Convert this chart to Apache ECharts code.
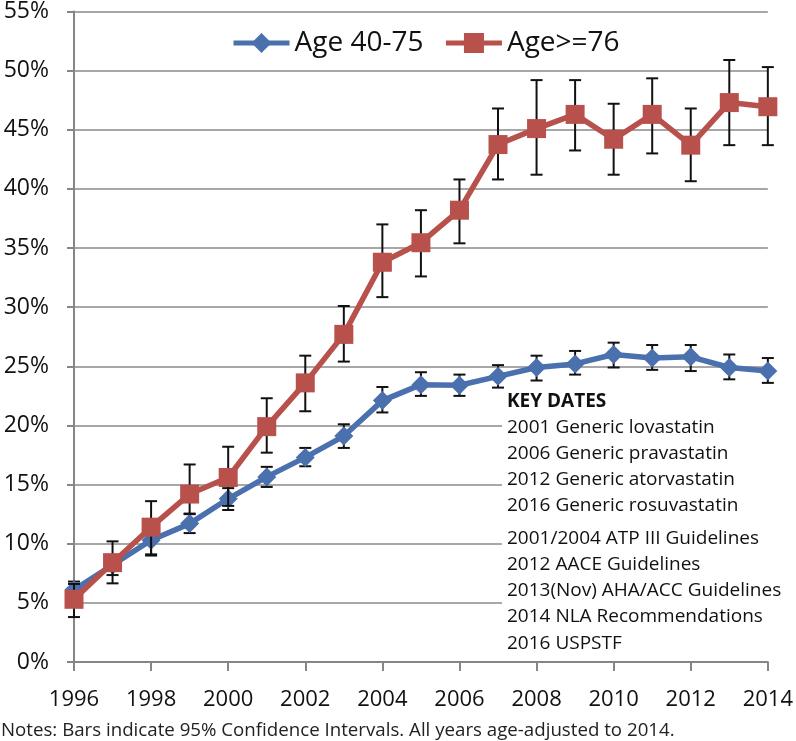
<!DOCTYPE html>
<html>
<head>
<meta charset="utf-8">
<script src="https://cdn.jsdelivr.net/npm/echarts@6/dist/echarts.min.js"></script>
<style>
html,body{margin:0;padding:0;background:#fff;}
#chart{width:796px;height:741px;}
</style>
</head>
<body>
<div id="chart"></div>
<script>
const years = ['1996','1997','1998','1999','2000','2001','2002','2003','2004','2005','2006','2007','2008','2009','2010','2011','2012','2013','2014'];
const yTicks = [0,5,10,15,20,25,30,35,40,45,50,55];

const age4075 = [6.1, 8.2, 10.3, 11.7, 13.8, 15.65, 17.3, 19.1, 22.1, 23.45, 23.4, 24.15, 24.9, 25.2, 26.0, 25.7, 25.8, 24.9, 24.6];
const age4075Low = [5.5, 7.35, 9.1, 10.9, 12.85, 14.8, 16.55, 18.1, 21.1, 22.5, 22.5, 23.2, 23.8, 24.3, 24.9, 24.7, 24.6, 23.9, 23.6];
const age4075High = [6.8, 9.0, 11.4, 12.5, 14.7, 16.5, 18.1, 20.1, 23.25, 24.5, 24.3, 25.1, 25.9, 26.3, 27.0, 26.8, 26.8, 26.0, 25.7];

const age76 = [5.3, 8.4, 11.4, 14.2, 15.6, 19.9, 23.6, 27.7, 33.8, 35.45, 38.2, 43.75, 45.1, 46.3, 44.2, 46.3, 43.7, 47.3, 46.95];
const age76Low = [3.8, 6.65, 9.0, 12.55, 13.2, 17.7, 21.2, 25.4, 30.85, 32.6, 35.4, 40.8, 41.2, 43.25, 41.2, 43.0, 40.65, 43.7, 43.7];
const age76High = [6.6, 10.2, 13.6, 16.7, 18.2, 22.3, 25.9, 30.1, 37.0, 38.2, 40.8, 46.8, 49.2, 49.2, 47.2, 49.35, 46.8, 50.9, 50.3];

const seriesNames = ['Age 40-75', 'Age>=76'];
const keyDatesTitle = 'KEY DATES';
const keyDatesGroup1 = ['2001 Generic lovastatin','2006 Generic pravastatin','2012 Generic atorvastatin','2016 Generic rosuvastatin'];
const keyDatesGroup2 = ['2001/2004 ATP III Guidelines','2012 AACE Guidelines','2013(Nov) AHA/ACC Guidelines','2014 NLA Recommendations','2016 USPSTF'];
const noteText = 'Notes: Bars indicate 95% Confidence Intervals. All years age-adjusted to 2014.';

const BLUE = '#4a70ae';
const RED = '#b8504c';
const FONT = '"Open Sans"';

function errData(low, high) {
  return years.map((y, i) => [i, low[i], high[i]]);
}
function errRender(params, api) {
  const x = api.value(0);
  const lo = api.coord([x, api.value(1)]);
  const hi = api.coord([x, api.value(2)]);
  const cw = 6;
  const st = {stroke: '#111', lineWidth: 2, fill: null};
  return {
    type: 'group',
    children: [
      {type: 'line', shape: {x1: lo[0], y1: lo[1], x2: hi[0], y2: hi[1]}, style: st},
      {type: 'line', shape: {x1: lo[0]-cw, y1: lo[1], x2: lo[0]+cw, y2: lo[1]}, style: st},
      {type: 'line', shape: {x1: hi[0]-cw, y1: hi[1], x2: hi[0]+cw, y2: hi[1]}, style: st}
    ]
  };
}

const graphics = [];
graphics.push({type: 'rect', z: 1, shape: {x: 502, y: 388, width: 290, height: 268}, style: {fill: '#fff'}});
let ty = 402;
graphics.push({type: 'text', z: 10, x: 507, y: ty, style: {text: keyDatesTitle, font: 'bold 19px ' + FONT, fill: '#111', textVerticalAlign: 'middle'}});
keyDatesGroup1.forEach(t => { ty += 25.8; graphics.push({type: 'text', z: 10, x: 507, y: ty, style: {text: t, font: '19px ' + FONT, fill: '#111', textVerticalAlign: 'middle'}}); });
ty += 7;
keyDatesGroup2.forEach(t => { ty += 26.2; graphics.push({type: 'text', z: 10, x: 507, y: ty, style: {text: t, font: '19px ' + FONT, fill: '#111', textVerticalAlign: 'middle'}}); });
graphics.push({type: 'text', z: 10, x: 1, y: 731, style: {text: noteText, font: '18.7px ' + FONT, fill: '#222', textVerticalAlign: 'middle'}});

const chart = echarts.init(document.getElementById('chart'), null, {renderer: 'canvas'});
chart.setOption({
  animation: false,
  backgroundColor: '#fff',
  textStyle: {fontFamily: FONT},
  legend: {
    data: seriesNames,
    left: 226,
    top: 24,
    itemWidth: 56,
    itemHeight: 25,
    itemGap: 20,
    lineStyle: {width: 5},
    textStyle: {fontSize: 28, color: '#111', fontFamily: FONT}
  },
  grid: {left: 74, right: 28, top: 11, bottom: 79, containLabel: false},
  xAxis: {
    type: 'category',
    data: years,
    boundaryGap: false,
    axisLine: {lineStyle: {color: '#868686', width: 2}},
    axisTick: {interval: 1, length: 9, lineStyle: {color: '#868686', width: 2}},
    axisLabel: {interval: 1, fontSize: 22, color: '#111', margin: 27, fontFamily: FONT},
    splitLine: {show: false}
  },
  yAxis: {
    type: 'value',
    min: yTicks[0],
    max: yTicks[yTicks.length - 1],
    interval: yTicks[1] - yTicks[0],
    axisLine: {show: true, lineStyle: {color: '#868686', width: 2}},
    axisTick: {show: true, length: 7, lineStyle: {color: '#868686', width: 2}},
    axisLabel: {formatter: '{value}%', fontSize: 23, color: '#111', margin: 25, fontFamily: FONT},
    splitLine: {lineStyle: {color: '#8a8a8a', width: 1.5}}
  },
  graphic: graphics,
  series: [
    {
      name: seriesNames[0], type: 'line', data: age4075, z: 3,
      symbol: 'diamond', symbolSize: 19,
      lineStyle: {color: BLUE, width: 5.5}, itemStyle: {color: BLUE}
    },
    {
      name: 'err1', type: 'custom', data: errData(age4075Low, age4075High), z: 2,
      renderItem: errRender, encode: {x: 0, y: [1, 2]}
    },
    {
      name: seriesNames[1], type: 'line', data: age76, z: 5,
      symbol: 'rect', symbolSize: 19,
      lineStyle: {color: RED, width: 5.5}, itemStyle: {color: RED}
    },
    {
      name: 'err2', type: 'custom', data: errData(age76Low, age76High), z: 4,
      renderItem: errRender, encode: {x: 0, y: [1, 2]}
    }
  ]
});
</script>
</body>
</html>
